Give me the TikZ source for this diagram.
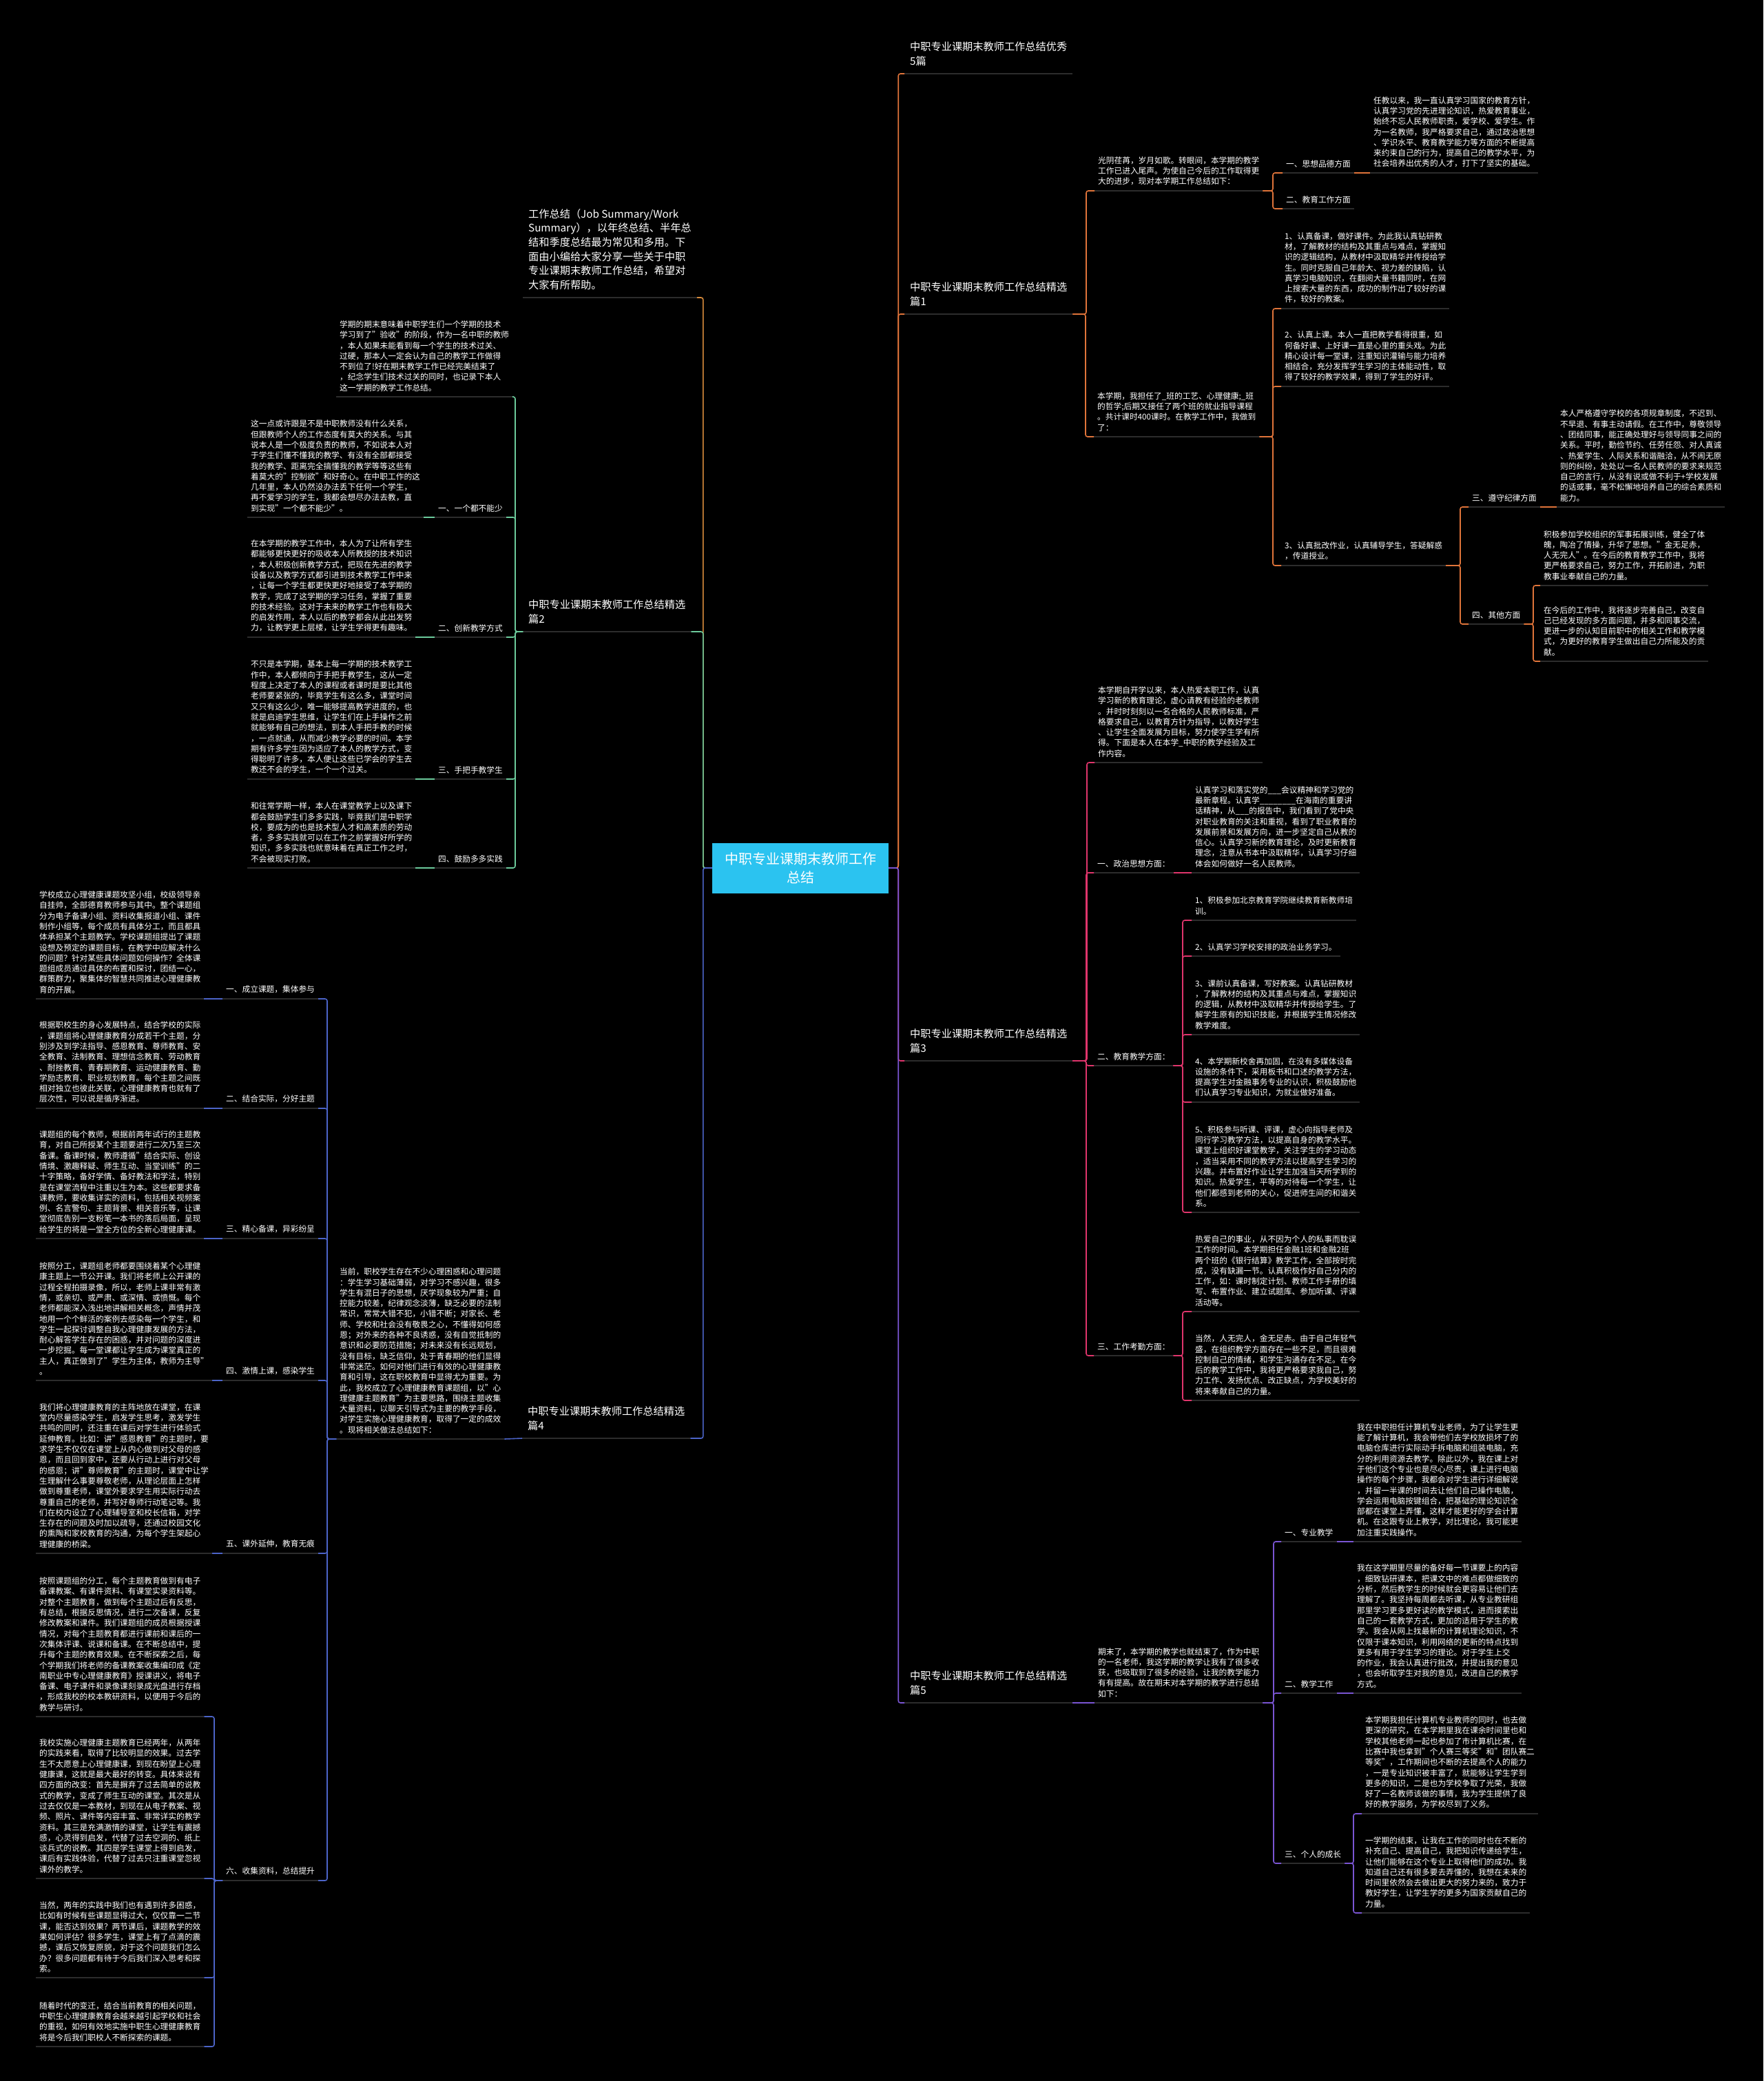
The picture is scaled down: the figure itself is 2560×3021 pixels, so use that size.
\documentclass[tikz,border=0pt]{standalone}
\usepackage{fontspec}
\setmainfont{Noto Sans CJK SC}
\usetikzlibrary{calc}

\definecolor{bg}{HTML}{000000}
\definecolor{ulgray}{HTML}{2C2C2C}
\definecolor{rootcyan}{HTML}{2BC3F0}
\definecolor{cOrange}{HTML}{E0743A}
\definecolor{cPink}{HTML}{E0356C}
\definecolor{cPurple}{HTML}{7A55D3}
\definecolor{cGreen}{HTML}{6CCB9C}
\definecolor{cBlue}{HTML}{4C64C8}
\definecolor{cAmber}{HTML}{D98C3C}

\begin{document}
\begin{tikzpicture}[x=1pt, y=-1pt,
    txt/.style={align=left, text=white, anchor=south west,
      font=\fontsize{11.7}{15.3}\selectfont, inner xsep=5pt, inner ysep=7.6pt},
    ttl/.style={txt, font=\fontsize{15.2}{20.7}\selectfont, inner xsep=8pt, inner ysep=11pt},
    uline/.style={draw=ulgray, line width=2pt},
    lk/.style={line width=1.6pt, rounded corners=3pt}
  ]
    % 背景与边界
    \useasboundingbox[fill=bg] (0,0) rectangle (2560,3021);

    % 中心主题
    \node[fill=rootcyan, text=white, align=center, inner sep=0pt,
          minimum width=256pt, minimum height=73pt,
          font=\fontsize{20}{27}\selectfont] (root) at (1162,1260) {中职专业课期末教师工作\\总结};

    % ---------- 右侧：优秀5篇 / 篇1 ----------
    \node[ttl] (r0) at (1313,107) {中职专业课期末教师工作总结优秀\\5篇};
    \node[ttl] (r1) at (1313,456) {中职专业课期末教师工作总结精选\\篇1};
    \node[txt] (r1a) at (1589,277) {光阴荏苒，岁月如歌。转眼间，本学期的教学\\工作已进入尾声。为使自己今后的工作取得更\\大的进步，现对本学期工作总结如下：};
    \node[txt] (a1) at (1862,251) {一、思想品德方面};
    \node[txt] (a1t) at (1989,251) {任教以来，我一直认真学习国家的教育方针，\\认真学习党的先进理论知识，热爱教育事业，\\始终不忘人民教师职责，爱学校、爱学生。作\\为一名教师，我严格要求自己，通过政治思想\\、学识水平、教育教学能力等方面的不断提高\\来约束自己的行为，提高自己的教学水平，为\\社会培养出优秀的人才，打下了坚实的基础。};
    \node[txt] (a2) at (1862,303) {二、教育工作方面};
    \node[txt] (r1b) at (1588,634) {本学期，我担任了\_班的工艺、心理健康;\_班\\的哲学;后期又接任了两个班的就业指导课程\\。共计课时400课时。在教学工作中，我做到\\了：};
    \node[txt] (b1) at (1860,448) {1、认真备课，做好课件。为此我认真钻研教\\材，了解教材的结构及其重点与难点，掌握知\\识的逻辑结构，从教材中汲取精华并传授给学\\生。同时克服自己年龄大、视力差的缺陷，认\\真学习电脑知识，在翻阅大量书籍同时，在网\\上搜索大量的东西，成功的制作出了较好的课\\件，较好的教案。};
    \node[txt] (b2) at (1860,561) {2、认真上课。本人一直把教学看得很重，如\\何备好课、上好课一直是心里的重头戏。为此\\精心设计每一堂课，注重知识灌输与能力培养\\相结合，充分发挥学生学习的主体能动性，取\\得了较好的教学效果，得到了学生的好评。};
    \node[txt] (b3) at (1860,821) {3、认真批改作业，认真辅导学生，答疑解惑\\，传道授业。};
    \node[txt] (b3x) at (2132,736) {三、遵守纪律方面};
    \node[txt] (b3xt) at (2260,736) {本人严格遵守学校的各项规章制度，不迟到、\\不早退、有事主动请假。在工作中，尊敬领导\\、团结同事，能正确处理好与领导同事之间的\\关系。平时，勤俭节约、任劳任怨、对人真诚\\、热爱学生、人际关系和谐融洽，从不闹无原\\则的纠纷，处处以一名人民教师的要求来规范\\自己的言行，从没有说或做不利于+学校发展\\的话或事，毫不松懈地培养自己的综合素质和\\能力。};
    \node[txt] (b3y) at (2132,906) {四、其他方面};
    \node[txt] (b3y1) at (2236,850) {积极参加学校组织的军事拓展训练，健全了体\\魄，陶冶了情操，升华了思想。"金无足赤，\\人无完人"。在今后的教育教学工作中，我将\\更严格要求自己，努力工作，开拓前进，为职\\教事业奉献自己的力量。};
    \node[txt] (b3y2) at (2236,960) {在今后的工作中，我将逐步完善自己，改变自\\己已经发现的多方面问题，并多和同事交流，\\更进一步的认知目前职中的相关工作和教学模\\式，为更好的教育学生做出自己力所能及的贡\\献。};

    % ---------- 右侧：篇3 ----------
    \node[ttl] (r3) at (1313,1540) {中职专业课期末教师工作总结精选\\篇3};
    \node[txt] (r3a) at (1589,1107) {本学期自开学以来，本人热爱本职工作，认真\\学习新的教育理论，虚心请教有经验的老教师\\。并时时刻刻以一名合格的人民教师标准，严\\格要求自己，以教育方针为指导，以教好学生\\、让学生全面发展为目标，努力使学生学有所\\得。下面是本人在本学\_中职的教学经验及工\\作内容。};
    \node[txt] (c1) at (1588,1267) {一、政治思想方面：};
    \node[txt] (c1t) at (1730,1267) {认真学习和落实党的\_\_\_会议精神和学习党的\\最新章程。认真学\_\_\_\_\_\_\_\_在海南的重要讲\\话精神，从\_\_\_的报告中，我们看到了党中央\\对职业教育的关注和重视，看到了职业教育的\\发展前景和发展方向，进一步坚定自己从教的\\信心。认真学习新的教育理论，及时更新教育\\理念，注意从书本中汲取精华，认真学习仔细\\体会如何做好一名人民教师。};
    \node[txt] (c2) at (1588,1547) {二、教育教学方面：};
    \node[txt] (c2t1) at (1730,1336) {1、积极参加北京教育学院继续教育新教师培\\训。};
    \node[txt] (c2t2) at (1730,1388) {2、认真学习学校安排的政治业务学习。};
    \node[txt] (c2t3) at (1730,1502) {3、课前认真备课，写好教案。认真钻研教材\\，了解教材的结构及其重点与难点，掌握知识\\的逻辑，从教材中汲取精华并传授给学生。了\\解学生原有的知识技能，并根据学生情况修改\\教学难度。};
    \node[txt] (c2t4) at (1730,1600) {4、本学期新校舍再加固，在没有多媒体设备\\设施的条件下，采用板书和口述的教学方法，\\提高学生对金融事务专业的认识，积极鼓励他\\们认真学习专业知识，为就业做好准备。};
    \node[txt] (c2t5) at (1730,1760) {5、积极参与听课、评课，虚心向指导老师及\\同行学习教学方法，以提高自身的教学水平。\\课堂上组织好课堂教学，关注学生的学习动态\\，适当采用不同的教学方法以提高学生学习的\\兴趣。并布置好作业让学生加强当天所学到的\\知识。热爱学生，平等的对待每一个学生，让\\他们都感到老师的关心，促进师生间的和谐关\\系。};
    \node[txt] (c3) at (1588,1968) {三、工作考勤方面：};
    \node[txt] (c3t1) at (1730,1904) {热爱自己的事业，从不因为个人的私事而耽误\\工作的时间。本学期担任金融1班和金融2班\\两个班的《银行结算》教学工作，全部按时完\\成，没有缺漏一节。认真积极作好自己分内的\\工作，如：课时制定计划、教师工作手册的填\\写、布置作业、建立试题库、参加听课、评课\\活动等。};
    \node[txt] (c3t2) at (1730,2033) {当然，人无完人，金无足赤。由于自己年轻气\\盛，在组织教学方面存在一些不足，而且很难\\控制自己的情绪，和学生沟通存在不足。在今\\后的教学工作中，我将更严格要求我自己，努\\力工作、发扬优点、改正缺点，为学校美好的\\将来奉献自己的力量。};

    % ---------- 右侧：篇5 ----------
    \node[ttl] (r5) at (1313,2472) {中职专业课期末教师工作总结精选\\篇5};
    \node[txt] (r5a) at (1589,2472) {期末了，本学期的教学也就结束了，作为中职\\的一名老师，我这学期的教学让我有了很多收\\获，也吸取到了很多的经验，让我的教学能力\\有有提高。故在期末对本学期的教学进行总结\\如下：};
    \node[txt] (d1) at (1860,2238) {一、专业教学};
    \node[txt] (d1t) at (1965,2238) {我在中职担任计算机专业老师，为了让学生更\\能了解计算机，我会带他们去学校放损坏了的\\电脑仓库进行实际动手拆电脑和组装电脑，充\\分的利用资源去教学。除此以外，我在课上对\\于他们这个专业也是尽心尽责，课上进行电脑\\操作的每个步骤，我都会对学生进行详细解说\\，并留一半课的时间去让他们自己操作电脑，\\学会运用电脑按键组合，把基础的理论知识全\\部都在课堂上弄懂，这样才能更好的学会计算\\机。在这跟专业上教学，对比理论，我可能更\\加注重实践操作。};
    \node[txt] (d2) at (1860,2458) {二、教学工作};
    \node[txt] (d2t) at (1965,2458) {我在这学期里尽量的备好每一节课要上的内容\\，细致钻研课本，把课文中的难点都做细致的\\分析，然后教学生的时候就会更容易让他们去\\理解了。我坚持每周都去听课，从专业教研组\\那里学习更多更好读的教学模式，进而摸索出\\自己的一套教学方式，更加的适用于学生的教\\学。我会从网上找最新的计算机理论知识，不\\仅限于课本知识，利用网络的更新的特点找到\\更多有用于学生学习的理论。对于学生上交\\的作业，我会认真进行批改，并提出我的意见\\，也会听取学生对我的意见，改进自己的教学\\方式。};
    \node[txt] (d3) at (1860,2705) {三、个人的成长};
    \node[txt] (d3t1) at (1977,2633) {本学期我担任计算机专业教师的同时，也去做\\更深的研究，在本学期里我在课余时间里也和\\学校其他老师一起也参加了市计算机比赛，在\\比赛中我也拿到"个人赛三等奖"和"团队赛二\\等奖"，工作期间也不断的去提高个人的能力\\，一是专业知识被丰富了，就能够让学生学到\\更多的知识，二是也为学校争取了光荣，我做\\好了一名教师该做的事情，我为学生提供了良\\好的教学服务，为学校尽到了义务。};
    \node[txt] (d3t2) at (1977,2777) {一学期的结束，让我在工作的同时也在不断的\\补充自己、提高自己，我把知识传递给学生，\\让他们能够在这个专业上取得他们的成功。我\\知道自己还有很多要去弄懂的，我想在未来的\\时间里依然会去做出更大的努力来的，致力于\\教好学生，让学生学的更多为国家贡献自己的\\力量。};

    % ---------- 左侧：引言 / 篇2 ----------
    \node[ttl] (l0) at (759,432) {工作总结（Job Summary/Work\\Summary），以年终总结、半年总\\结和季度总结最为常见和多用。下\\面由小编给大家分享一些关于中职\\专业课期末教师工作总结，希望对\\大家有所帮助。};
    \node[ttl] (l2) at (759,917) {中职专业课期末教师工作总结精选\\篇2};
    \node[txt] (l2a) at (488,576) {学期的期末意味着中职学生们一个学期的技术\\学习到了"验收"的阶段，作为一名中职的教师\\，本人如果未能看到每一个学生的技术过关、\\过硬，那本人一定会认为自己的教学工作做得\\不到位了!好在期末教学工作已经完美结束了\\，纪念学生们技术过关的同时，也记录下本人\\这一学期的教学工作总结。};
    \node[txt] (e1) at (631,751) {一、一个都不能少};
    \node[txt] (e1t) at (359,751) {这一点或许跟是不是中职教师没有什么关系，\\但跟教师个人的工作态度有莫大的关系。与其\\说本人是一个极度负责的教师，不如说本人对\\于学生们懂不懂我的教学、有没有全部都接受\\我的教学、距离完全搞懂我的教学等等这些有\\着莫大的"控制欲"和好奇心。在中职工作的这\\几年里，本人仍然没办法丢下任何一个学生，\\再不爱学习的学生，我都会想尽办法去教，直\\到实现"一个都不能少"。};
    \node[txt] (e2) at (631,925) {二、创新教学方式};
    \node[txt] (e2t) at (359,925) {在本学期的教学工作中，本人为了让所有学生\\都能够更快更好的吸收本人所教授的技术知识\\，本人积极创新教学方式，把现在先进的教学\\设备以及教学方式都引进到技术教学工作中来\\，让每一个学生都更快更好地接受了本学期的\\教学，完成了这学期的学习任务，掌握了重要\\的技术经验。这对于未来的教学工作也有极大\\的启发作用，本人以后的教学都会从此出发努\\力，让教学更上层楼，让学生学得更有趣味。};
    \node[txt] (e3) at (631,1131) {三、手把手教学生};
    \node[txt] (e3t) at (359,1131) {不只是本学期，基本上每一学期的技术教学工\\作中，本人都倾向于手把手教学生，这从一定\\程度上决定了本人的课程或者课时是要比其他\\老师要紧张的，毕竟学生有这么多，课堂时间\\又只有这么少，唯一能够提高教学进度的，也\\就是启迪学生思维，让学生们在上手操作之前\\就能够有自己的想法，到本人手把手教的时候\\，一点就通，从而减少教学必要的时间。本学\\期有许多学生因为适应了本人的教学方式，变\\得聪明了许多，本人便让这些已学会的学生去\\教还不会的学生，一个一个过关。};
    \node[txt] (e4) at (631,1260) {四、鼓励多多实践};
    \node[txt] (e4t) at (359,1260) {和往常学期一样，本人在课堂教学上以及课下\\都会鼓励学生们多多实践，毕竟我们是中职学\\校，要成为的也是技术型人才和高素质的劳动\\者，多多实践就可以在工作之前掌握好所学的\\知识，多多实践也就意味着在真正工作之时，\\不会被现实打败。};

    % ---------- 左侧：篇4 ----------
    \node[ttl] (l4) at (758,2088) {中职专业课期末教师工作总结精选\\篇4};
    \node[txt] (l4a) at (488,2089) {当前，职校学生存在不少心理困惑和心理问题\\：学生学习基础薄弱，对学习不感兴趣，很多\\学生有混日子的思想，厌学现象较为严重；自\\控能力较差，纪律观念淡薄，缺乏必要的法制\\常识，常常大错不犯，小错不断；对家长、老\\师、学校和社会没有敬畏之心，不懂得如何感\\恩；对外来的各种不良诱惑，没有自觉抵制的\\意识和必要防范措施；对未来没有长远规划，\\没有目标，缺乏信仰，处于青春期的他们显得\\非常迷茫。如何对他们进行有效的心理健康教\\育和引导，这在职校教育中显得尤为重要。为\\此，我校成立了心理健康教育课题组，以"心\\理健康主题教育"为主要思路，围绕主题收集\\大量资料，以聊天引导式为主要的教学手段，\\对学生实施心理健康教育，取得了一定的成效\\。现将相关做法总结如下：};
    \node[txt] (f1) at (323,1450) {一、成立课题，集体参与};
    \node[txt] (f1t) at (52,1450) {学校成立心理健康课题攻坚小组，校级领导亲\\自挂帅，全部德育教师参与其中。整个课题组\\分为电子备课小组、资料收集报道小组、课件\\制作小组等，每个成员有具体分工，而且都具\\体承担某个主题教学。学校课题组提出了课题\\设想及预定的课题目标，在教学中应解决什么\\的问题？针对某些具体问题如何操作？全体课\\题组成员通过具体的布置和探讨，团结一心，\\群策群力，聚集体的智慧共同推进心理健康教\\育的开展。};
    \node[txt] (f2) at (323,1609) {二、结合实际，分好主题};
    \node[txt] (f2t) at (52,1609) {根据职校生的身心发展特点，结合学校的实际\\，课题组将心理健康教育分成若干个主题，分\\别涉及到学法指导、感恩教育、尊师教育、安\\全教育、法制教育、理想信念教育、劳动教育\\、耐挫教育、青春期教育、运动健康教育、勤\\学励志教育、职业规划教育。每个主题之间既\\相对独立也彼此关联，心理健康教育也就有了\\层次性，可以说是循序渐进。};
    \node[txt] (f3) at (323,1798) {三、精心备课，异彩纷呈};
    \node[txt] (f3t) at (52,1798) {课题组的每个教师，根据前两年试行的主题教\\育，对自己所授某个主题要进行二次乃至三次\\备课。备课时候，教师遵循"结合实际、创设\\情境、激趣释疑、师生互动、当堂训练"的二\\十字策略，备好学情、备好教法和学法，特别\\是在课堂流程中注重以生为本。这些都要求备\\课教师，要收集详实的资料，包括相关视频案\\例、名言警句、主题背景、相关音乐等，让课\\堂彻底告别一支粉笔一本书的落后局面，呈现\\给学生的将是一堂全方位的全新心理健康课。};
    \node[txt] (f4) at (323,2004) {四、激情上课，感染学生};
    \node[txt] (f4t) at (52,2004) {按照分工，课题组老师都要围绕着某个心理健\\康主题上一节公开课。我们将老师上公开课的\\过程全程拍摄录像，所以，老师上课非常有激\\情，或亲切、或严肃、或深情、或愤慨。每个\\老师都能深入浅出地讲解相关概念，声情并茂\\地用一个个鲜活的案例去感染每一个学生，和\\学生一起探讨调整自我心理健康发展的方法，\\耐心解答学生存在的困惑，并对问题的深度进\\一步挖掘。每一堂课都让学生成为课堂真正的\\主人，真正做到了"学生为主体，教师为主导"\\。};
    \node[txt] (f5) at (323,2255) {五、课外延伸，教育无痕};
    \node[txt] (f5t) at (52,2255) {我们将心理健康教育的主阵地放在课堂，在课\\堂内尽量感染学生，启发学生思考，激发学生\\共鸣的同时，还注重在课后对学生进行体验式\\延伸教育。比如：讲"感恩教育"的主题时，要\\求学生不仅仅在课堂上从内心做到对父母的感\\恩，而且回到家中，还要从行动上进行对父母\\的感恩；讲"尊师教育"的主题时，课堂中让学\\生理解什么事要尊敬老师，从理论层面上怎样\\做到尊重老师，课堂外要求学生用实际行动去\\尊重自己的老师，并写好尊师行动笔记等。我\\们在校内设立了心理辅导室和校长信箱，对学\\生存在的问题及时加以疏导，还通过校园文化\\的熏陶和家校教育的沟通，为每个学生架起心\\理健康的桥梁。};
    \node[txt] (f6) at (323,2730) {六、收集资料，总结提升};
    \node[txt] (g1) at (52,2492) {按照课题组的分工，每个主题教育做到有电子\\备课教案、有课件资料、有课堂实录资料等。\\对整个主题教育，做到每个主题过后有反思，\\有总结，根据反思情况，进行二次备课，反复\\修改教案和课件。我们课题组的成员根据授课\\情况，对每个主题教育都进行课前和课后的一\\次集体评课、说课和备课。在不断总结中，提\\升每个主题的教育效果。在不断探索之后，每\\个学期我们将老师的备课教案收集编印成《定\\南职业中专心理健康教育》授课讲义，将电子\\备课、电子课件和录像课刻录成光盘进行存档\\，形成我校的校本教研资料，以便用于今后的\\教学与研讨。};
    \node[txt] (g2) at (52,2727) {我校实施心理健康主题教育已经两年，从两年\\的实践来看，取得了比较明显的效果。过去学\\生不太愿意上心理健康课，到现在盼望上心理\\健康课，这就是最大最好的转变。具体来说有\\四方面的改变：首先是摒弃了过去简单的说教\\式的教学，变成了师生互动的课堂。其次是从\\过去仅仅是一本教材，到现在从电子教案、视\\频、照片、课件等内容丰富、非常详实的教学\\资料。其三是充满激情的课堂，让学生有震撼\\感，心灵得到启发，代替了过去空洞的、纸上\\谈兵式的说教。其四是学生课堂上得到启发，\\课后有实践体验，代替了过去只注重课堂忽视\\课外的教学。};
    \node[txt] (g3) at (52,2871) {当然，两年的实践中我们也有遇到许多困惑，\\比如有时候有些课题显得过大，仅仅靠一二节\\课，能否达到效果？两节课后，课题教学的效\\果如何评估？很多学生，课堂上有了点滴的震\\撼，课后又恢复原貌，对于这个问题我们怎么\\办？很多问题都有待于今后我们深入思考和探\\索。};
    \node[txt] (g4) at (52,2971) {随着时代的变迁，结合当前教育的相关问题，\\中职生心理健康教育会越来越引起学校和社会\\的重视，如何有效地实施中职生心理健康教育\\将是今后我们职校人不断探索的课题。};

    % 下划线
    \foreach \n in {r0,r1,r1a,a1,a1t,a2,r1b,b1,b2,b3,b3x,b3xt,b3y,b3y1,b3y2,
                    r3,r3a,c1,c1t,c2,c2t1,c2t2,c2t3,c2t4,c2t5,c3,c3t1,c3t2,
                    r5,r5a,d1,d1t,d2,d2t,d3,d3t1,d3t2,
                    l0,l2,l2a,e1,e1t,e2,e2t,e3,e3t,e4,e4t,
                    l4,l4a,f1,f1t,f2,f2t,f3,f3t,f4,f4t,f5,f5t,f6,g1,g2,g3,g4} {
        \draw[uline] (\n.south west) -- (\n.south east);
    }

    % 右侧连线
    \foreach \c in {r0,r1} \draw[lk, cOrange] (root.east) -- ++(14,0) |- (\c.south west);
    \draw[lk, cPink] (root.east) -- ++(14,0) |- (r3.south west);
    \draw[lk, cPurple] (root.east) -- ++(14,0) |- (r5.south west);

    \foreach \c in {r1a,r1b} \draw[lk, cOrange] (r1.south east) -| ([xshift=-12pt]\c.south west) -- (\c.south west);
    \foreach \c in {a1,a2} \draw[lk, cOrange] (r1a.south east) -| ([xshift=-14pt]\c.south west) -- (\c.south west);
    \draw[lk, cOrange] (a1.south east) -- (a1t.south west);
    \foreach \c in {b1,b2,b3} \draw[lk, cOrange] (r1b.south east) -| ([xshift=-12pt]\c.south west) -- (\c.south west);
    \foreach \c in {b3x,b3y} \draw[lk, cOrange] (b3.south east) -| ([xshift=-12pt]\c.south west) -- (\c.south west);
    \draw[lk, cOrange] (b3x.south east) -- (b3xt.south west);
    \foreach \c in {b3y1,b3y2} \draw[lk, cOrange] (b3y.south east) -| ([xshift=-10pt]\c.south west) -- (\c.south west);

    \foreach \c in {r3a,c1,c2,c3} \draw[lk, cPink] (r3.south east) -| ([xshift=-11pt]\c.south west) -- (\c.south west);
    \draw[lk, cPink] (c1.south east) -- (c1t.south west);
    \foreach \c in {c2t1,c2t2,c2t3,c2t4,c2t5} \draw[lk, cPink] (c2.south east) -| ([xshift=-13pt]\c.south west) -- (\c.south west);
    \foreach \c in {c3t1,c3t2} \draw[lk, cPink] (c3.south east) -| ([xshift=-13pt]\c.south west) -- (\c.south west);

    \draw[lk, cPurple] (r5.south east) -- (r5a.south west);
    \foreach \c in {d1,d2,d3} \draw[lk, cPurple] (r5a.south east) -| ([xshift=-11pt]\c.south west) -- (\c.south west);
    \draw[lk, cPurple] (d1.south east) -- (d1t.south west);
    \draw[lk, cPurple] (d2.south east) -- (d2t.south west);
    \foreach \c in {d3t1,d3t2} \draw[lk, cPurple] (d3.south east) -| ([xshift=-12pt]\c.south west) -- (\c.south west);

    % 左侧连线
    \draw[lk, cAmber] (root.west) -- ++(-13,0) |- (l0.south east);
    \draw[lk, cGreen] (root.west) -- ++(-13,0) |- (l2.south east);
    \draw[lk, cBlue] (root.west) -- ++(-13,0) |- (l4.south east);

    \foreach \c in {l2a,e1,e2,e3,e4} \draw[lk, cGreen] (l2.south west) -- ++(-11,0) |- (\c.south east);
    \foreach \a/\b in {e1/e1t,e2/e2t,e3/e3t,e4/e4t} \draw[lk, cGreen] (\a.south west) -- (\b.south east);

    \draw[lk, cBlue] (l4.south west) -- (l4a.south east);
    \foreach \c in {f1,f2,f3,f4,f5,f6} \draw[lk, cBlue] (l4a.south west) -- ++(-13,0) |- (\c.south east);
    \foreach \a/\b in {f1/f1t,f2/f2t,f3/f3t,f4/f4t,f5/f5t} \draw[lk, cBlue] (\a.south west) -- (\b.south east);
    \foreach \c in {g1,g2,g3,g4} \draw[lk, cBlue] (f6.south west) -- ++(-12,0) |- (\c.south east);
\end{tikzpicture}
\end{document}
